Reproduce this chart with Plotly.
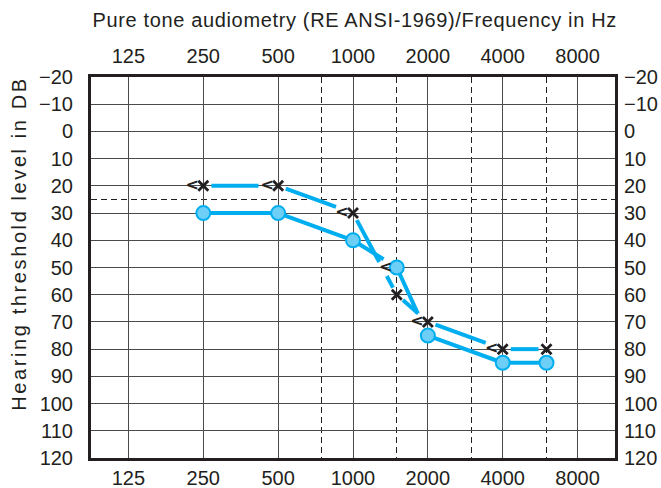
import numpy as np
import plotly.graph_objects as go

# ---------------- data ----------------
freq_ticks = [125, 250, 500, 1000, 2000, 4000, 8000]
freq_tick_labels = ["125", "250", "500", "1000", "2000", "4000", "8000"]
half_octave_freqs = [750, 1500, 3000, 6000]
db_ticks = list(range(-20, 121, 10))
db_tick_labels = ["\u221220", "\u221210"] + [str(v) for v in range(0, 121, 10)]
normal_limit_db = [25]

circle_freq = [250, 500, 1000, 1500, 2000, 4000, 6000]
circle_db = [30, 30, 40, 50, 75, 85, 85]
cross_freq = [250, 500, 1000, 1500, 2000, 4000, 6000]
cross_db = [20, 20, 30, 60, 70, 80, 80]
chevron_freq = [250, 500, 1000, 1500, 2000, 4000]
chevron_db = [20, 20, 30, 50, 70, 80]

# ---------------- geometry ----------------
W_FIG, H_FIG = 661, 488
L, R, T, B = 91, 615, 77, 458
PW, PH = R - L, B - T
x0 = np.log10(125) - 0.5 * np.log10(2)
x1 = np.log10(8000) + 0.5 * np.log10(2)
y_lo, y_hi = -20, 120

BLUE = "#00AEEF"
FILL = "#6DCFF6"
INK = "#231F20"
GRID = "#4A4A4A"
FONT = "Liberation Sans, Arial, Helvetica, sans-serif"


def to_px(f, d):
    return L + (np.log10(f) - x0) / (x1 - x0) * PW, T + (d - y_lo) / (y_hi - y_lo) * PH


def from_px(px, py):
    return 10 ** (x0 + (px - L) / PW * (x1 - x0)), y_lo + (py - T) / PH * (y_hi - y_lo)


CHEV_SHIFT = 11
chev_plot_freq = [from_px(to_px(f, d)[0] - CHEV_SHIFT, 0)[0] for f, d in zip(chevron_freq, chevron_db)]

obstacles = [(to_px(f, d), 8.0) for f, d in zip(cross_freq, cross_db)]
obstacles += [(to_px(f, d), 8.5) for f, d in zip(chev_plot_freq, chevron_db)]


def broken_path(fs, ds):
    out_x, out_y = [], []
    for i in range(len(fs) - 1):
        ax, ay = to_px(fs[i], ds[i])
        bx, by = to_px(fs[i + 1], ds[i + 1])
        t = np.linspace(0, 1, 600)
        px = ax + (bx - ax) * t
        py = ay + (by - ay) * t
        keep = np.ones_like(t, dtype=bool)
        for (ox, oy), r in obstacles:
            keep &= np.hypot(px - ox, py - oy) > r
        k = 0
        n = len(t)
        while k < n:
            if keep[k]:
                s = k
                while k < n and keep[k]:
                    k += 1
                e = k - 1
                if e > s:
                    fa, da = from_px(px[s], py[s])
                    fb, db_ = from_px(px[e], py[e])
                    out_x += [fa, fb, None]
                    out_y += [da, db_, None]
            else:
                k += 1
    return out_x, out_y


fig = go.Figure()

sx, sy = broken_path(circle_freq, circle_db)
fig.add_trace(go.Scatter(x=sx, y=sy, mode="lines", line=dict(color=BLUE, width=4),
                         hoverinfo="skip", showlegend=False))
cx, cy = broken_path(cross_freq, cross_db)
fig.add_trace(go.Scatter(x=cx, y=cy, mode="lines", line=dict(color=BLUE, width=4),
                         hoverinfo="skip", showlegend=False))
fig.add_trace(go.Scatter(x=circle_freq, y=circle_db, mode="markers",
                         marker=dict(symbol="circle", size=14, color=FILL,
                                     line=dict(color=BLUE, width=2)),
                         showlegend=False))
fig.add_trace(go.Scatter(x=cross_freq, y=cross_db, mode="markers",
                         marker=dict(symbol="x-thin", size=10,
                                     line=dict(color=INK, width=2.8)),
                         showlegend=False))
fig.add_trace(go.Scatter(x=chev_plot_freq, y=chevron_db, mode="text",
                         text=["<b>&lt;</b>"] * len(chevron_db), textposition="middle center",
                         textfont=dict(family="DejaVu Sans, sans-serif", size=16, color=INK),
                         showlegend=False, hoverinfo="skip"))
fig.add_trace(go.Scatter(x=[1000], y=[50], xaxis="x2", yaxis="y2", mode="markers",
                         marker=dict(opacity=0), showlegend=False, hoverinfo="skip"))

tickfont = dict(family=FONT, size=20, color=INK)

fig.update_layout(
    width=W_FIG, height=H_FIG,
    margin=dict(l=L, r=W_FIG - R, t=T, b=H_FIG - B, autoexpand=False),
    paper_bgcolor="white", plot_bgcolor="white",
    xaxis=dict(type="log", range=[x0, x1], tickmode="array", tickvals=freq_ticks,
               ticktext=freq_tick_labels, showgrid=True, gridcolor=GRID, gridwidth=1.3,
               minor=dict(tickmode="array", tickvals=half_octave_freqs, showgrid=True,
                          griddash="6px,4px", gridcolor=INK, gridwidth=1.3, ticks=""),
               showline=True, mirror=True, linecolor=INK, linewidth=3, ticks="",
               tickfont=tickfont, zeroline=False, ticklabelstandoff=0, automargin=False),
    xaxis2=dict(type="log", range=[x0, x1], overlaying="x", side="top", tickmode="array",
                tickvals=freq_ticks, ticktext=freq_tick_labels, showgrid=False,
                showline=False, ticks="", tickfont=tickfont, zeroline=False,
                ticklabelstandoff=9, automargin=False),
    yaxis=dict(range=[y_hi, y_lo], tickmode="array", tickvals=db_ticks, ticktext=db_tick_labels,
               showgrid=True, gridcolor=GRID, gridwidth=1.3,
               minor=dict(tickmode="array", tickvals=normal_limit_db, showgrid=True,
                          griddash="6px,4px", gridcolor=INK, gridwidth=1.2, ticks=""),
               showline=True, mirror=True, linecolor=INK, linewidth=3, ticks="",
               tickfont=tickfont, zeroline=False, ticklabelstandoff=11, automargin=False),
    yaxis2=dict(range=[y_hi, y_lo], overlaying="y", side="right", tickmode="array",
                tickvals=db_ticks, ticktext=db_tick_labels, showgrid=False, showline=False,
                ticks="", tickfont=tickfont, zeroline=False, ticklabelstandoff=8,
                automargin=False),
    annotations=[
        dict(text="Pure tone audiometry (RE ANSI-1969)/Frequency in Hz", xref="paper", yref="paper",
             x=(354.5 - L) / PW, y=1 + (T - 20) / PH, xanchor="center", yanchor="middle",
             showarrow=False, font=dict(family=FONT, size=20, color=INK)),
        dict(text="Hearing threshold level in DB", xref="paper", yref="paper",
             x=(19 - L) / PW, y=(B - 244) / PH, xanchor="center", yanchor="middle",
             textangle=-90, showarrow=False, font=dict(family=FONT, size=20, color=INK)),
    ],
)

post = """
document.body.style.margin='0';
var t = document.querySelectorAll('text.annotation-text');
if (t.length > 1) { t[0].style.letterSpacing='0.65px'; t[1].style.letterSpacing='2.6px'; }
"""

fig.write_html("out.html", config={"displayModeBar": False}, post_script=post)
